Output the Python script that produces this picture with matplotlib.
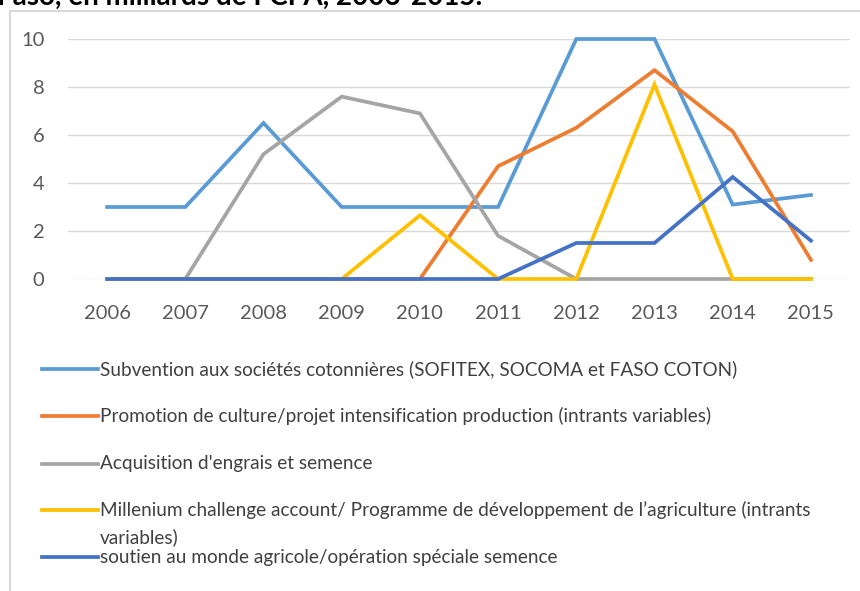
import matplotlib
matplotlib.use("Agg")
import matplotlib.pyplot as plt
from matplotlib.lines import Line2D

plt.rcParams["font.family"] = ["Lato", "DejaVu Sans"]

# Data (milliards de FCFA)
years = [2006, 2007, 2008, 2009, 2010, 2011, 2012, 2013, 2014, 2015]
subvention_coton = [3.0, 3.0, 6.5, 3.0, 3.0, 3.0, 10.0, 10.0, 3.1, 3.5]
promotion_culture = [0, 0, 0, 0, 0, 4.7, 6.3, 8.7, 6.15, 0.8]
engrais_semence = [0, 0, 5.2, 7.6, 6.9, 1.8, 0, 0, 0, 0]
millenium = [0, 0, 0, 0, 2.65, 0, 0, 8.1, 0, 0]
soutien_agricole = [0, 0, 0, 0, 0, 0, 1.5, 1.5, 4.25, 1.6]

series = [
    ("Subvention aux sociétés cotonnières (SOFITEX, SOCOMA et FASO COTON)", subvention_coton, "#5B9BD5"),
    ("Promotion de culture/projet intensification production (intrants variables)", promotion_culture, "#ED7D31"),
    ("Acquisition d'engrais et semence", engrais_semence, "#A5A5A5"),
    ("Millenium challenge account/ Programme de développement de l’agriculture (intrants\nvariables)", millenium, "#FFC000"),
    ("soutien au monde agricole/opération spéciale semence", soutien_agricole, "#4472C4"),
]

W, H = 860, 591
fig = plt.figure(figsize=(W / 100, H / 100), dpi=100)

def fx(px):
    return px / W

def fy(py):
    return 1 - py / H

ax = fig.add_axes([fx(68), fy(279), fx(850) - fx(68), fy(39) - fy(279)])

for label, vals, color in series:
    ax.plot(years, vals, color=color, lw=2.7, clip_on=False, solid_joinstyle="miter")

ax.set_xlim(2005.5, 2015.5)
ax.set_ylim(0, 10)
ax.set_xticks(years)
ax.set_yticks(range(0, 11, 2))
ax.grid(axis="y", color="#D9D9D9", lw=1)
ax.set_axisbelow(True)
for s in ax.spines.values():
    s.set_visible(False)
ax.tick_params(length=0, labelsize=14.5, colors="#595959")
ax.tick_params(axis="x", pad=19)
ax.tick_params(axis="y", pad=17)

# chart frame (cropped)
fig.add_artist(Line2D([fx(10), fx(10)], [fy(11), 0], color="#D9D9D9", lw=1.5))
fig.add_artist(Line2D([fx(10), 1], [fy(11), fy(11)], color="#D9D9D9", lw=1.5))

# cropped title (only its lower part is visible, as in the source)
fig.text(fx(-3), fy(5), "Faso, en milliards de FCFA, 2006-2015.", fontsize=20,
         fontweight="bold", va="baseline", ha="left")

# legend
legend_y = [369, 416, 464, 510, 557]
for (label, vals, color), py in zip(series, legend_y):
    fig.add_artist(Line2D([fx(42), fx(98)], [fy(py), fy(py)], color=color, lw=2.7))
    lines = label.split("\n")
    fig.text(fx(100), fy(py), lines[0], fontsize=13.7, color="#404040",
             va="center", ha="left")
    if len(lines) > 1:
        fig.text(fx(100), fy(py + 27), lines[1], fontsize=13.7, color="#404040",
                 va="center", ha="left")

fig.savefig("out.png", dpi=100)
